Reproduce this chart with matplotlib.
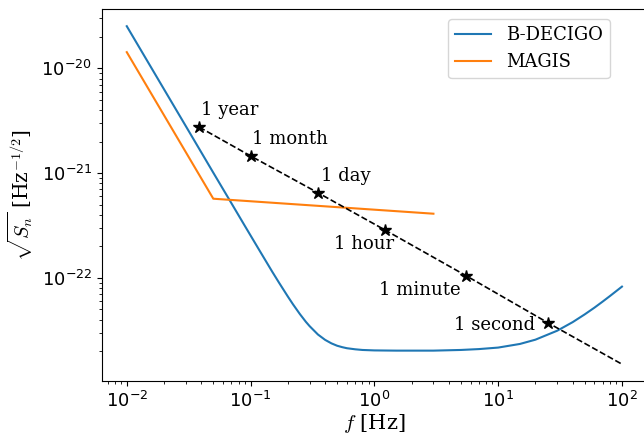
import matplotlib
matplotlib.use("Agg")
import matplotlib.pyplot as plt

plt.rcParams['font.size'] = 13
plt.rcParams['mathtext.fontset'] = 'cm'

# B-DECIGO noise curve
f_decigo = [0.01, 0.02, 0.03, 0.05, 0.07, 0.08, 0.09, 0.1, 0.12, 0.15, 0.17, 0.2,
            0.22, 0.25, 0.28, 0.3, 0.35, 0.4, 0.45, 0.5, 0.55, 0.6, 0.7, 0.8,
            1, 1.5, 2, 3, 5, 7, 10, 15, 20, 30, 40, 50, 60, 70, 80, 100]
h_decigo = [2.53e-20, 6.32e-21, 2.81e-21, 1.01e-21, 5.17e-22, 3.96e-22, 3.13e-22,
            2.54e-22, 1.77e-22, 1.14e-22, 8.98e-23, 6.64e-23, 5.6e-23, 4.52e-23,
            3.8e-23, 3.46e-23, 2.88e-23, 2.56e-23, 2.37e-23, 2.25e-23, 2.18e-23,
            2.13e-23, 2.08e-23, 2.05e-23, 2.03e-23, 2.02e-23, 2.02e-23, 2.02e-23,
            2.05e-23, 2.09e-23, 2.16e-23, 2.34e-23, 2.57e-23, 3.13e-23, 3.78e-23,
            4.48e-23, 5.2e-23, 5.95e-23, 6.71e-23, 8.25e-23]

# MAGIS
f_magis = [0.01, 0.05, 3.0]
h_magis = [1.43e-20, 5.7e-22, 4.1e-22]

# time to merger track
labels = ['1 year', '1 month', '1 day', '1 hour', '1 minute', '1 second']
f_track = [0.0385, 0.1, 0.35, 1.21, 5.5, 25.5]
h_track = [2.75e-21, 1.46e-21, 6.5e-22, 2.88e-22, 1.05e-22, 3.7e-23]
f_end = 100
h_end = 1.5e-23

fig = plt.figure(figsize=(6.44, 4.37), dpi=100)
ax = fig.add_axes([0.1584, 0.128, 0.8458, 0.8507])

ax.loglog(f_decigo, h_decigo, label='B-DECIGO')
ax.loglog(f_magis, h_magis, label='MAGIS')
ax.plot(f_track + [f_end], h_track + [h_end], 'k--', lw=1.2)
ax.plot(f_track, h_track, 'k*', ms=9)

# label offsets in pixels
offs = [(2, 17, 'left'), (1, 17, 'left'), (3, 17, 'left'),
        (10, -14, 'right'), (-5, -14, 'right'), (-13, -2, 'right')]
for lab, x, y, (dx, dy, ha) in zip(labels, f_track, h_track, offs):
    ax.annotate(lab, (x, y), xytext=(dx, dy), textcoords='offset pixels',
                ha=ha, va='center', family='serif')

ax.set_xlabel('$f$ [Hz]', family='serif', fontsize=15, labelpad=1)
ax.set_ylabel(r'$\sqrt{S_n}$ [Hz$^{-1/2}$]', family='serif', fontsize=14.5)
ax.legend(loc='upper right', bbox_to_anchor=(0.9326, 0.974), borderaxespad=0,
          prop={'family': 'serif'})

fig.savefig('out.png', dpi=100)
